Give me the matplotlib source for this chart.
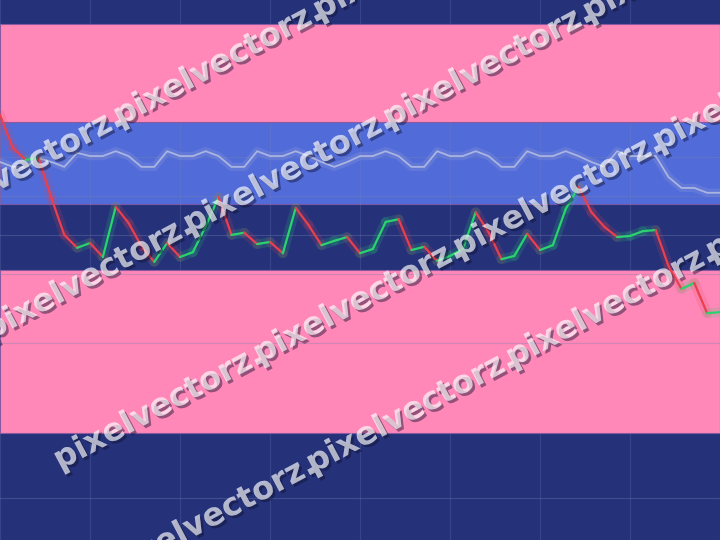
import numpy as np
import matplotlib.pyplot as plt
from matplotlib.collections import LineCollection
import matplotlib.patheffects as pe

# fast series (coloured by direction) and slow series, one value per step
price = [78.7, 72.6, 70.4, 70.7, 63.3, 56.5, 54.1, 55.0, 52.4, 61.7,
         58.7, 54.4, 51.5, 55.0, 52.4, 53.3, 58.1, 63.5, 56.5, 56.9,
         54.8, 55.2, 53.1, 61.5, 58.3, 54.6, 55.4, 56.1, 53.1, 53.9,
         58.9, 59.4, 53.7, 54.3, 51.7, 52.6, 53.9, 60.7, 57.0, 52.0,
         52.6, 56.7, 53.7, 54.6, 61.3, 65.4, 60.7, 58.0, 56.1, 56.3,
         57.2, 57.4, 50.7, 46.5, 47.6, 42.0, 42.2]
signal = [70.0, 69.1, 69.1, 70.7, 70.0, 69.1, 71.7, 71.1, 71.1, 72.0,
          71.1, 69.1, 69.1, 72.0, 71.1, 71.1, 72.0, 71.1, 69.1, 69.1,
          72.0, 71.1, 71.1, 72.0, 71.1, 70.0, 69.1, 70.0, 71.1, 71.1,
          72.0, 71.1, 69.1, 69.1, 72.0, 71.1, 71.1, 72.0, 71.1, 69.1,
          69.1, 72.0, 71.1, 71.1, 72.0, 71.1, 70.0, 69.1, 72.0, 71.1,
          71.1, 71.1, 67.2, 65.2, 65.2, 64.3, 64.3]

pink_zones = [(77.4, 95.6), (19.8, 50.0)]
blue_zone = (62.2, 77.4)
level_lines = [7.8, 36.5, 49.3, 56.5, 63.7, 70.9]
watermark = "pixelvectorz."

navy = '#25327a'
W, H = 720, 540
fig = plt.figure(figsize=(7.2, 5.4), dpi=100, facecolor=navy)
ax = fig.add_axes([0, 0, 1, 1])
ax.set_facecolor(navy)

x = np.arange(len(price))
ax.set_xlim(0, len(price) - 1)
ax.set_ylim(0, 100)
ax.set_xticks(np.arange(0, len(price), 7))
ax.set_yticks([])
ax.set_axisbelow(True)
ax.grid(True, axis='x', color='#8088c0', alpha=0.22, lw=0.8)
ax.tick_params(length=0, labelbottom=False, labelleft=False)
for s in ax.spines.values():
    s.set_visible(False)

# blue zone lets the grid through, pink zones cover it
ax.axhspan(*blue_zone, facecolor='#5570e0', edgecolor='#7a5aa8', lw=0.8,
           alpha=0.93, zorder=0.5)
for lo, hi in pink_zones:
    ax.axhspan(lo, hi, facecolor='#ff88b8', edgecolor='#8a5aa0', lw=0.8, zorder=1)
for lv in level_lines:
    ax.axhline(lv, color='#7a80b0', alpha=0.35, lw=0.8, zorder=1.5)

# slow series with a soft glow
ax.plot(x, signal, color='#aab4e1', lw=6, alpha=0.18, zorder=2)
ax.plot(x, signal, color='#aab4e1', lw=1.3, zorder=3)

# fast series: green when rising, red when falling
pts = np.column_stack([x, price])
segs = np.stack([pts[:-1], pts[1:]], axis=1)
cols = ['#2ad36e' if b > a else '#e8404e' for a, b in zip(price[:-1], price[1:])]
ax.add_collection(LineCollection(segs, colors=cols, linewidths=7, alpha=0.16,
                                 capstyle='round', zorder=4))
ax.add_collection(LineCollection(segs, colors=cols, linewidths=1.6,
                                 capstyle='round', zorder=5))

# diagonal watermark rows: (pixel y of baseline at x=0, x where the row starts)
ang = np.deg2rad(28)
fs = 23
period = 7.08 * fs * 100 / 72
rows = [(190, -80), (335, -10), (502, 60), (640, 113)]
shadow = [pe.withSimplePatchShadow(offset=(1.8, -1.8), shadow_rgbFace='#101030', alpha=0.45),
          pe.Normal()]
for c, start in rows:
    for k in range(6):
        px = start + k * period * np.cos(ang)
        py = c - np.tan(ang) * px
        if px > W or py < -40:
            break
        fig.text(px / W, 1 - py / H, watermark, rotation=28, rotation_mode='anchor',
                 ha='left', va='baseline', fontsize=fs, fontweight='bold',
                 color='white', alpha=0.42, path_effects=shadow, zorder=10)

fig.savefig('out.png', dpi=100, facecolor=navy)
